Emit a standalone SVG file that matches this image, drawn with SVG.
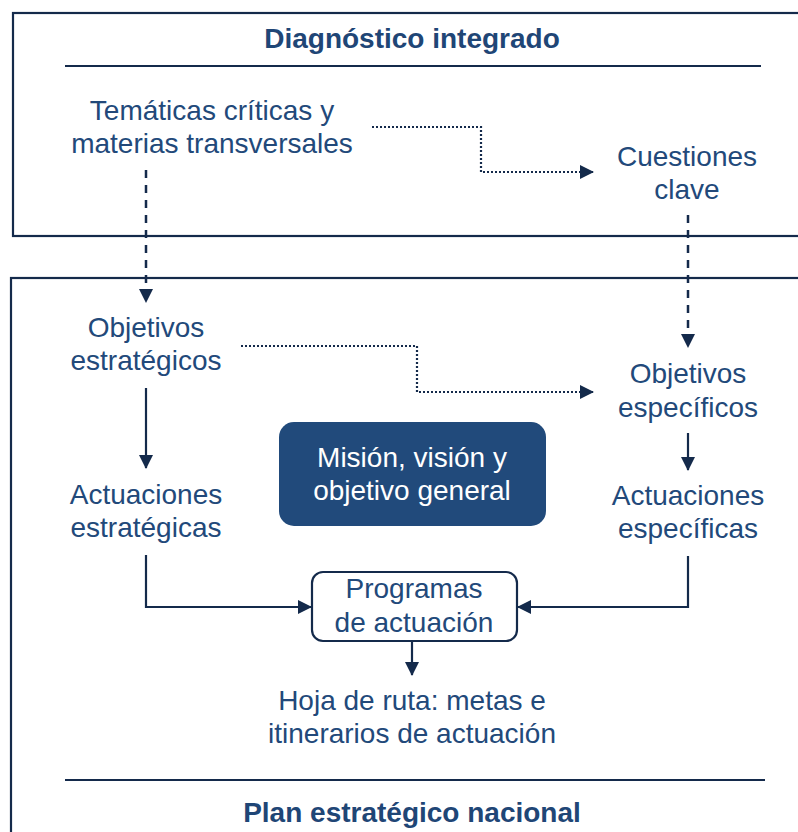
<svg xmlns="http://www.w3.org/2000/svg" width="798" height="832" viewBox="0 0 798 832">
<defs>
<marker id="arr" viewBox="0 0 14 14" refX="13" refY="7" markerWidth="14" markerHeight="14" markerUnits="userSpaceOnUse" orient="auto">
<path d="M0,0 L14,7 L0,14 z" fill="#142a4b"/>
</marker>
</defs>
<style>
.frame{fill:none;stroke:#142a4b;stroke-width:2.2}
.rule{stroke:#142a4b;stroke-width:2.2}
.t{font-family:"Liberation Sans",Arial,sans-serif;font-size:28px;fill:#22497a;text-anchor:middle}
.h{font-family:"Liberation Sans",Arial,sans-serif;font-size:28px;font-weight:bold;fill:#1f4676;text-anchor:middle}
.w{font-family:"Liberation Sans",Arial,sans-serif;font-size:28px;fill:#ffffff;text-anchor:middle}
.solid{fill:none;stroke:#142a4b;stroke-width:2.2;marker-end:url(#arr)}
.dash{fill:none;stroke:#142a4b;stroke-width:2.5;stroke-dasharray:8,7;marker-end:url(#arr)}
.dot{fill:none;stroke:#142a4b;stroke-width:2.2;stroke-dasharray:2,2;marker-end:url(#arr)}
</style>
<rect width="798" height="832" fill="#ffffff"/>
<g id="diagnostico">
<rect class="frame" x="13" y="13" width="800" height="223"/>
<text class="h" x="412" y="48">Diagnóstico integrado</text>
<line class="rule" x1="65" y1="66" x2="761" y2="66"/>
</g>
<g id="plan">
<rect class="frame" x="11" y="278" width="800" height="600"/>
<line class="rule" x1="65" y1="780" x2="765" y2="780"/>
<text class="h" x="412" y="822">Plan estratégico nacional</text>
</g>
<g id="tematicas">
<text class="t" x="212" y="120">Temáticas críticas y</text>
<text class="t" x="212" y="153">materias transversales</text>
</g>
<g id="cuestiones">
<text class="t" x="687" y="166">Cuestiones</text>
<text class="t" x="687" y="199">clave</text>
</g>
<g id="obj-estrategicos">
<text class="t" x="146" y="337">Objetivos</text>
<text class="t" x="146" y="370">estratégicos</text>
</g>
<g id="obj-especificos">
<text class="t" x="688" y="383">Objetivos</text>
<text class="t" x="688" y="417">específicos</text>
</g>
<g id="act-estrategicas">
<text class="t" x="146" y="504">Actuaciones</text>
<text class="t" x="146" y="537">estratégicas</text>
</g>
<g id="act-especificas">
<text class="t" x="688" y="505">Actuaciones</text>
<text class="t" x="688" y="538">específicas</text>
</g>
<g id="mision">
<rect x="279" y="422" width="267" height="104" rx="15" fill="#214a7b"/>
<text class="w" x="412" y="467">Misión, visión y</text>
<text class="w" x="412" y="500">objetivo general</text>
</g>
<g id="programas">
<rect x="312" y="572" width="205" height="69" rx="11" fill="#ffffff" stroke="#142a4b" stroke-width="2.2"/>
<text class="t" x="414" y="598">Programas</text>
<text class="t" x="414" y="632">de actuación</text>
</g>
<g id="hoja">
<text class="t" x="412" y="710">Hoja de ruta: metas e</text>
<text class="t" x="412" y="743">itinerarios de actuación</text>
</g>
<g id="connectors">
<path class="dot" d="M372,127 H481 V172 H593"/>
<path class="dash" d="M146,170 V302"/>
<path class="dash" d="M688,215 V347"/>
<path class="dot" d="M241,346 H417 V392 H593"/>
<path class="solid" d="M146,388 V468"/>
<path class="solid" d="M688,433 V470"/>
<path class="solid" d="M146,555 V607 H311"/>
<path class="solid" d="M688,556 V607 H518"/>
<path class="solid" d="M412,641 V675"/>
</g>
</svg>
